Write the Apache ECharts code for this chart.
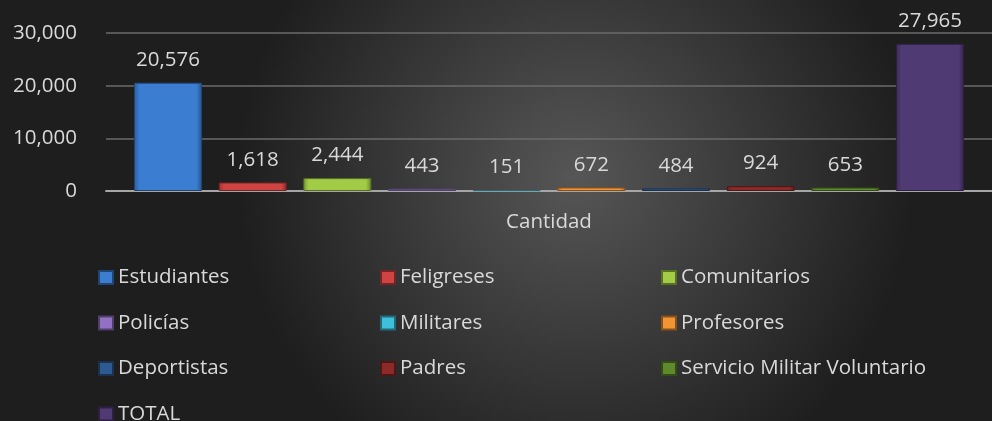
<!DOCTYPE html>
<html>
<head>
<meta charset="utf-8">
<script src="https://cdn.jsdelivr.net/npm/echarts@6/dist/echarts.min.js"></script>
<style>
  html, body { margin: 0; padding: 0; }
  #chart { width: 992px; height: 421px; }
</style>
</head>
<body>
<div id="chart"></div>
<script>
// datos
const categories = ['Cantidad']
const seriesNames = [
  'Estudiantes', 'Feligreses', 'Comunitarios', 'Policías', 'Militares',
  'Profesores', 'Deportistas', 'Padres', 'Servicio Militar Voluntario', 'TOTAL',
]
const seriesValues = [20576, 1618, 2444, 443, 151, 672, 484, 924, 653, 27965]
const seriesColors = [
  '#3b7dd0', '#d04343', '#a2cc45', '#9270c2', '#3ec0da',
  '#f39433', '#2e5a92', '#8c2a2a', '#5f8a2c', '#503a74',
]
const yTicks = [0, 10000, 20000, 30000]

// columnas de la leyenda
const legendCols = [
  ['Estudiantes', 'Policías', 'Deportistas', 'TOTAL'],
  ['Feligreses', 'Militares', 'Padres'],
  ['Comunitarios', 'Profesores', 'Servicio Militar Voluntario'],
]
const legendLeft = [98, 380, 661]

const font = 'Open Sans'
const textColor = '#d9d9d9'
const fontSize = 20.5

function shade(hex, f) {
  let n = parseInt(hex.slice(1), 16)
  let r = (n >> 16) & 255, g = (n >> 8) & 255, b = n & 255
  const m = (c) => Math.max(0, Math.min(255, Math.round(f > 0 ? c + (255 - c) * f : c * (1 + f))))
  return 'rgb(' + m(r) + ',' + m(g) + ',' + m(b) + ')'
}

const series = seriesNames.map((name, i) => ({
  name: name,
  type: 'bar',
  barWidth: 68,
  barGap: '24.5%',
  data: [seriesValues[i]],
  itemStyle: {
    color: {
      type: 'linear', x: 0, y: 0, x2: 1, y2: 0,
      colorStops: [
        { offset: 0, color: shade(seriesColors[i], -0.25) },
        { offset: 0.08, color: seriesColors[i] },
        { offset: 0.92, color: seriesColors[i] },
        { offset: 1, color: shade(seriesColors[i], -0.35) },
      ],
    },
    borderColor: shade(seriesColors[i], -0.45),
    borderWidth: 1,
  },
  label: {
    show: true,
    position: 'top',
    distance: 12,
    color: textColor,
    fontFamily: font,
    fontSize: fontSize,
    formatter: (p) => p.value.toLocaleString('en-US'),
  },
}))

const legends = legendCols.map((col, i) => ({
  data: col,
  orient: 'vertical',
  left: legendLeft[i],
  top: 267,
  height: 200,
  padding: 0,
  itemWidth: 14,
  itemHeight: 13,
  itemGap: 24.5,
  icon: 'rect',
  textStyle: {
    color: textColor, fontFamily: font, fontSize: fontSize,
    padding: [0, 0, 0, 0],
  },
}))

const chart = echarts.init(document.getElementById('chart'))
chart.setOption({
  animation: false,
  backgroundColor: {
    type: 'radial', x: 0.58, y: 0.42, r: 0.8,
    colorStops: [
      { offset: 0, color: '#565656' },
      { offset: 1, color: '#1e1e1e' },
    ],
  },
  grid: { left: 106, right: -4, top: 33, bottom: 230 },
  legend: legends,
  xAxis: {
    type: 'category',
    data: categories,
    axisLine: { lineStyle: { color: '#a6a6a6', width: 2 } },
    axisTick: { show: false },
    axisLabel: { color: textColor, fontFamily: font, fontSize: fontSize, margin: 21 },
  },
  yAxis: {
    type: 'value',
    min: yTicks[0],
    max: yTicks[yTicks.length - 1],
    interval: 10000,
    axisLine: { show: false },
    axisTick: { show: false },
    axisLabel: {
      color: textColor, fontFamily: font, fontSize: fontSize, margin: 29,
      formatter: (v) => v.toLocaleString('en-US'),
    },
    splitLine: { lineStyle: { color: '#6b6b6b', width: 1.5 } },
  },
  series: series,
})
</script>
</body>
</html>
